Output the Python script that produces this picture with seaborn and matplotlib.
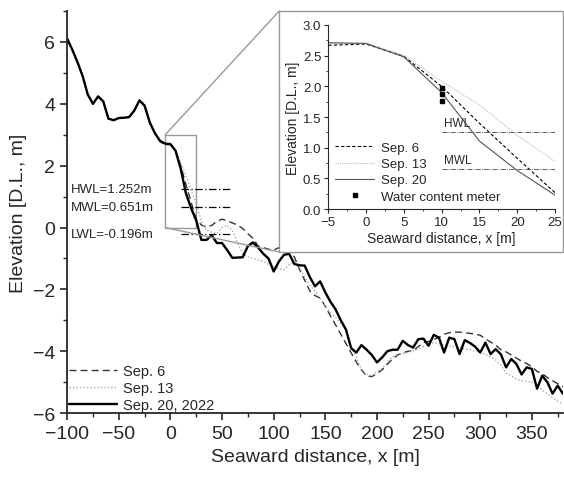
import numpy as np
import pandas as pd
import matplotlib
matplotlib.use("Agg")
import matplotlib.pyplot as plt
from matplotlib.patches import Rectangle, ConnectionPatch
from matplotlib.ticker import MultipleLocator
import seaborn as sns

# ── Données (profils lus sur la figure, pas de 5 m) ──────────
dist = list(range(-100, 385, 5))

sep20 = [6.11, 5.75, 5.35, 4.90, 4.30, 4.00, 4.24, 4.08, 3.52, 3.47,
         3.54, 3.55, 3.57, 3.78, 4.11, 3.94, 3.40, 3.05, 2.80, 2.71,
         2.70, 2.48, 1.90, 1.11, 0.63, 0.23, -0.40, -0.40, -0.25, -0.50,
         -0.50, -0.73, -0.98, -0.97, -0.96, -0.60, -0.48, -0.65, -0.85, -1.00,
         -1.42, -1.10, -0.88, -0.85, -1.18, -1.22, -1.23, -1.60, -1.90, -1.74,
         -2.10, -2.40, -2.65, -3.00, -3.30, -3.90, -4.04, -3.80, -3.95, -4.12,
         -4.36, -4.20, -4.00, -3.95, -3.95, -3.66, -3.80, -3.88, -3.61, -3.59,
         -3.82, -3.47, -3.56, -4.04, -3.56, -3.61, -4.09, -3.64, -3.73, -3.85,
         -4.04, -3.72, -4.09, -3.93, -4.10, -4.52, -4.25, -4.41, -4.75, -4.52,
         -4.57, -5.21, -4.79, -5.00, -5.37, -5.11, -5.37]

sep6 = [6.11, 5.75, 5.35, 4.90, 4.30, 4.00, 4.24, 4.08, 3.52, 3.47,
        3.54, 3.55, 3.57, 3.78, 4.11, 3.94, 3.40, 3.05, 2.78, 2.67,
        2.69, 2.49, 2.00, 1.40, 0.83, 0.27, 0.08, 0.02, 0.07, 0.20,
        0.27, 0.22, 0.15, 0.08, -0.03, -0.20, -0.35, -0.60, -0.65, -0.70,
        -0.73, -0.65, -0.70, -0.75, -0.95, -1.35, -1.70, -2.05, -2.20, -2.28,
        -2.55, -2.86, -3.15, -3.45, -3.75, -4.05, -4.35, -4.60, -4.80, -4.82,
        -4.72, -4.60, -4.42, -4.25, -4.12, -4.05, -4.00, -3.98, -3.85, -3.72,
        -3.68, -3.62, -3.55, -3.45, -3.40, -3.38, -3.38, -3.40, -3.42, -3.45,
        -3.48, -3.60, -3.70, -3.80, -3.95, -4.02, -4.12, -4.22, -4.32, -4.40,
        -4.50, -4.65, -4.72, -4.85, -4.95, -5.05, -5.15]

sep13 = [6.11, 5.75, 5.35, 4.90, 4.30, 4.00, 4.24, 4.08, 3.52, 3.47,
         3.54, 3.55, 3.57, 3.78, 4.11, 4.03, 3.45, 3.08, 2.82, 2.71,
         2.70, 2.51, 2.08, 1.70, 1.20, 0.78, 0.20, -0.09, -0.15, -0.19,
         0.00, 0.08, -0.10, -0.50, -0.85, -0.95, -1.00, -1.05, -1.10, -1.18,
         -1.25, -1.33, -1.37, -1.20, -1.10, -1.30, -1.60, -1.85, -2.05, -2.30,
         -2.55, -2.75, -2.90, -3.10, -3.30, -3.85, -4.20, -4.60, -4.75, -4.80,
         -4.65, -4.55, -4.35, -4.18, -4.10, -4.07, -4.04, -3.98, -3.93, -3.85,
         -3.78, -3.72, -3.75, -3.80, -3.82, -3.85, -3.88, -3.92, -3.95, -4.00,
         -4.04, -4.10, -4.18, -4.28, -4.45, -4.70, -4.80, -4.90, -4.95, -4.98,
         -5.00, -5.10, -5.25, -5.37, -5.50, -5.62, -5.70]

# niveaux d'eau
levels = {"HWL": 1.252, "MWL": 0.651, "LWL": -0.196}

# encart (zoom -5..25 m)
inset_x = [-5, 0, 5, 10, 15, 20, 25]
inset_sep6 = [2.67, 2.69, 2.49, 2.00, 1.40, 0.83, 0.27]
inset_sep13 = [2.71, 2.70, 2.51, 2.08, 1.70, 1.20, 0.78]
inset_sep20 = [2.71, 2.70, 2.48, 1.90, 1.11, 0.63, 0.23]
meter_x = [10, 10, 10]
meter_z = [1.97, 1.87, 1.77]

# ── Style ────────────────────────────────────────────────────
sns.set_style("ticks")
plt.rcParams['font.family'] = ['Liberation Sans', 'DejaVu Sans']
plt.rcParams['axes.linewidth'] = 1.3
plt.rcParams['xtick.major.width'] = 1.2
plt.rcParams['ytick.major.width'] = 1.2
plt.rcParams['xtick.minor.width'] = 1.0
plt.rcParams['ytick.minor.width'] = 1.0

fig = plt.figure(figsize=(5.64, 4.81), dpi=100)
ax = fig.add_axes([0.119, 0.139, 0.879, 0.836])

df = pd.DataFrame({"x": dist, "s6": sep6, "s13": sep13, "s20": sep20})

sns.lineplot(data=df, x="x", y="s6", ax=ax, color="#333333", lw=1.0,
             linestyle=(0, (5, 3)), label="Sep. 6")
sns.lineplot(data=df, x="x", y="s13", ax=ax, color="#aaaaaa", lw=1.0,
             linestyle=(0, (1, 1.5)), label="Sep. 13")
sns.lineplot(data=df, x="x", y="s20", ax=ax, color="black", lw=1.7,
             label="Sep. 20, 2022")

for name, z in levels.items():
    ax.plot([10, 60], [z, z], color="black", lw=0.9, linestyle=(0, (6, 2, 1, 2)))
    ax.text(-96, z, f"{name}={z:.3f}m", fontsize=9.5, va="center", ha="left")

ax.set_xlim(-100, 380)
ax.set_ylim(-6, 7)
ax.xaxis.set_major_locator(MultipleLocator(50))
ax.xaxis.set_minor_locator(MultipleLocator(25))
ax.set_yticks([-6, -4, -2, 0, 2, 4, 6])
ax.yaxis.set_minor_locator(MultipleLocator(1))
ax.tick_params(which="major", length=5, labelsize=14, direction="out")
ax.tick_params(which="minor", length=3, direction="out")
ax.set_xlabel("Seaward distance, x [m]", fontsize=14)
ax.set_ylabel("Elevation [D.L., m]", fontsize=14)
sns.despine(ax=ax)
ax.legend(loc="lower left", frameon=False, fontsize=10.5, handlelength=3.3,
          borderaxespad=0.0, borderpad=0.1, labelspacing=0.2, handletextpad=0.4)

# rectangle de zoom
ax.add_patch(Rectangle((-5, 0), 30, 3, fill=False, edgecolor="#999999", lw=1.0))

# cadre de l'encart
fx0, fy0, fw, fh = 0.495, 0.474, 0.504, 0.501
frame = Rectangle((fx0, fy0), fw, fh, transform=fig.transFigure,
                  facecolor="white", edgecolor="#999999", lw=1.0, zorder=5)
fig.patches.append(frame)
for pt in [(fx0, fy0 + fh), (fx0, fy0)]:
    cp = ConnectionPatch(xyA=(-5, 3 if pt[1] > 0.6 else 0), coordsA="data", axesA=ax,
                         xyB=pt, coordsB=fig.transFigure,
                         color="#999999", lw=1.0)
    fig.add_artist(cp)

# ── Encart ───────────────────────────────────────────────────
axi = fig.add_axes([0.582, 0.563, 0.402, 0.383], zorder=10)
di = pd.DataFrame({"x": inset_x, "s6": inset_sep6, "s13": inset_sep13, "s20": inset_sep20})
sns.lineplot(data=di, x="x", y="s6", ax=axi, color="black", lw=0.8,
             linestyle=(0, (3, 2)), label="Sep. 6")
sns.lineplot(data=di, x="x", y="s13", ax=axi, color="#bbbbbb", lw=0.8,
             linestyle=(0, (1, 1)), label="Sep. 13")
sns.lineplot(data=di, x="x", y="s20", ax=axi, color="#555555", lw=0.8,
             label="Sep. 20")
axi.plot(meter_x, meter_z, "s", color="black", ms=3.5, lw=0,
         label="Water content meter")
for name in ["HWL", "MWL"]:
    z = levels[name]
    axi.plot([10, 25], [z, z], color="#444444", lw=0.6, linestyle=(0, (6, 1.5, 1, 1.5)))
    axi.text(10.3, z + 0.06, name, fontsize=8.5, va="bottom", ha="left")
axi.set_xlim(-5, 25)
axi.set_ylim(0, 3)
axi.xaxis.set_major_locator(MultipleLocator(5))
axi.xaxis.set_minor_locator(MultipleLocator(2.5))
axi.yaxis.set_major_locator(MultipleLocator(0.5))
axi.yaxis.set_minor_locator(MultipleLocator(0.25))
axi.tick_params(which="major", length=3, width=0.8, labelsize=9.5, pad=2)
axi.tick_params(which="minor", length=1.5, width=0.6)
for s in axi.spines.values():
    s.set_linewidth(0.8)
sns.despine(ax=axi)
axi.set_xlabel("Seaward distance, x [m]", fontsize=10, labelpad=2)
axi.set_ylabel("Elevation [D.L., m]", fontsize=10, labelpad=2)
axi.legend(loc="lower left", frameon=False, fontsize=9.5, handlelength=3.0,
           borderaxespad=0.1, labelspacing=0.3, handletextpad=0.5)

fig.savefig("out.png", dpi=100)
